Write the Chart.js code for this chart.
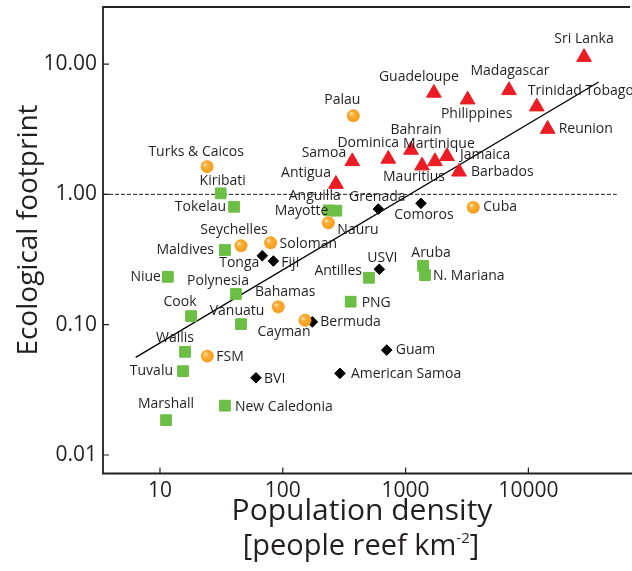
<!DOCTYPE html>
<html><head><meta charset="utf-8">
<script src="https://cdn.jsdelivr.net/npm/chart.js@4/dist/chart.umd.min.js"></script>
<style>html,body{margin:0;padding:0;background:#fff;}#wrap{width:632px;height:571px;position:relative;}</style>
</head><body><div id="wrap"><canvas id="c"></canvas></div>
<script>
// ---------- DATA ----------
const redNames = ['Sri Lanka','Guadeloupe','Madagascar','Philippines','Trinidad Tobago','Reunion','Bahrain','Dominica','Martinique','Jamaica','Mauritius','Barbados','Samoa','Antigua'];
const redDensity = [28400,1700,6950,3200,11700,14350,1107,723,1734,2173,1361,2723,368,271];
const redFootprint = [11.3,6.0,6.28,5.33,4.71,3.17,2.19,1.87,1.79,1.96,1.66,1.49,1.79,1.20];

const orangeNames = ['Palau','Turks & Caicos','Nauru','Cuba','Seychelles','Soloman','Bahamas','Cayman','FSM'];
const orangeDensity = [375,24.2,235,3556,45.7,79.6,91.8,151.7,24.3];
const orangeFootprint = [4.01,1.63,0.605,0.795,0.403,0.425,0.137,0.108,0.0574];

const greenNames = ['Kiribati','Tokelau','Anguilla','Mayotte','Maldives','Niue','Polynesia','Cook','Vanuatu','Wallis','Tuvalu','Marshall','New Caledonia','Antilles','PNG','Aruba','N. Mariana'];
const greenDensity = [31.2,40.1,236.6,273,33.8,11.6,41.6,17.9,45.7,16.0,15.4,11.2,33.8,503,357,1387,1439];
const greenFootprint = [1.018,0.803,0.754,0.749,0.374,0.233,0.172,0.1164,0.101,0.0619,0.0440,0.0185,0.0239,0.229,0.150,0.283,0.240];

const blackNames = ['Grenada','Comoros','Tonga','Fiji','USVI','Bermuda','Guam','American Samoa','BVI'];
const blackDensity = [600,1334,68.1,83.8,611,174,702,292,60.5];
const blackFootprint = [0.771,0.853,0.338,0.308,0.266,0.105,0.0638,0.0423,0.0391];

const fitDensity = [6.34, 37400];
const fitFootprint = [0.0561, 7.28];
const refDensity = [3.435, 52400];
const refFootprint = [1, 1];

const xTickValues = [10, 100, 1000, 10000];
const yTickValues = [0.01, 0.1, 1, 10];

// ---------- LABEL PLACEMENT (layout only) ----------
const labelPlacement = {
 'Sri Lanka':[0,-18,'center'],'Guadeloupe':[-15,-16,'center'],'Madagascar':[1,-19,'center'],'Philippines':[9,14,'center'],
 'Trinidad Tobago':[-9,-16,'left'],'Reunion':[11,0,'left'],'Bahrain':[5,-20,'center'],'Dominica':[-20,-16,'center'],
 'Martinique':[4,-17,'center'],'Jamaica':[13,-1,'left'],'Mauritius':[-8,11,'center'],'Barbados':[12,0,'left'],
 'Samoa':[-6,-8,'right'],'Antigua':[-5,-11,'right'],
 'Palau':[-11,-16,'center'],'Turks & Caicos':[-11,-15,'center'],'Nauru':[9,7,'left'],'Cuba':[10,0,'left'],
 'Seychelles':[-7,-16,'center'],'Soloman':[9,1,'left'],'Bahamas':[7,-15,'center'],'Cayman':[-21,12,'center'],'FSM':[9,1,'left'],
 'Kiribati':[2,-12,'center'],'Tokelau':[-8,0,'right'],'Anguilla':[-14,-14,'center'],'Mayotte':[-8,0,'right'],
 'Maldives':[-11,0,'right'],'Niue':[-7,0,'right'],'Polynesia':[-18,-13,'center'],'Cook':[-11,-14,'center'],
 'Vanuatu':[-4,-13,'center'],'Wallis':[-10,-14,'center'],'Tuvalu':[-10,0,'right'],'Marshall':[0,-16,'center'],
 'New Caledonia':[10,1,'left'],'Antilles':[-7,-7,'right'],'PNG':[11,1,'left'],'Aruba':[8,-13,'center'],'N. Mariana':[8,1,'left'],
 'Grenada':[-1,-12,'center'],'Comoros':[3,12,'center'],'Tonga':[-3,7,'right'],'Fiji':[8,2,'left'],'USVI':[3,-11,'center'],
 'Bermuda':[8,0,'left'],'Guam':[9,0,'left'],'American Samoa':[11,1,'left'],'BVI':[8,1,'left']
};

const pts = (xs, ys) => xs.map((x, i) => ({x: x, y: ys[i]}));
const INK = '#231F20';
const FONT = "'Open Sans', 'Noto Sans', sans-serif";

function orangeFill(ctx) {
  const chart = ctx.chart;
  if (ctx.type !== 'data' || !chart.scales.x || !ctx.raw) return '#F8A21C';
  const px = chart.scales.x.getPixelForValue(ctx.raw.x);
  const py = chart.scales.y.getPixelForValue(ctx.raw.y);
  if (!isFinite(px) || !isFinite(py)) return '#F8A21C';
  const g = chart.ctx.createRadialGradient(px - 2.5, py - 2.5, 0.3, px, py, 6.5);
  g.addColorStop(0, '#FFE3B0');
  g.addColorStop(0.35, '#FAB03A');
  g.addColorStop(1, '#F59A17');
  return g;
}

function noPad(s) { s.paddingTop = 0; s.paddingBottom = 0; s.paddingLeft = 0; s.paddingRight = 0; }

const labelPlugin = {
  id: 'pointLabels',
  afterDatasetsDraw(chart) {
    const ctx = chart.ctx;
    ctx.save();
    ctx.font = "14px " + FONT;
    ctx.fillStyle = INK;
    ctx.textBaseline = 'middle';
    chart.data.datasets.forEach((ds, di) => {
      if (!ds.names) return;
      const meta = chart.getDatasetMeta(di);
      meta.data.forEach((el, i) => {
        const name = ds.names[i];
        const p = labelPlacement[name] || [8, 0, 'left'];
        ctx.textAlign = p[2];
        ctx.fillText(name, el.x + p[0], el.y + p[1]);
      });
    });
    ctx.restore();
  }
};

const framePlugin = {
  id: 'frame',
  beforeDatasetsDraw(chart) {
    const ctx = chart.ctx, a = chart.chartArea;
    const xs = chart.scales.x, ys = chart.scales.y;
    ctx.save();
    ctx.strokeStyle = INK;
    ctx.lineWidth = 1.8;
    ctx.beginPath();
    ctx.moveTo(630, a.top); ctx.lineTo(a.left, a.top); ctx.lineTo(a.left, a.bottom); ctx.lineTo(a.right, a.bottom);
    ctx.stroke();
    ctx.lineWidth = 1.2;
    ctx.beginPath();
    xTickValues.forEach(v => { const px = xs.getPixelForValue(v); ctx.moveTo(px, a.bottom); ctx.lineTo(px, a.bottom - 6); });
    yTickValues.forEach(v => { const py = ys.getPixelForValue(v); ctx.moveTo(a.left, py); ctx.lineTo(a.left + 6, py); });
    ctx.stroke();
    ctx.restore();
  },
  afterDraw(chart) {
    const ctx = chart.ctx;
    ctx.save();
    ctx.fillStyle = INK;
    ctx.textBaseline = 'alphabetic';
    // x title
    ctx.font = "30px " + FONT;
    ctx.textAlign = 'center';
    ctx.fillText('Population density', 362, 520);
    const p1 = '[people reef km', sup = '-2', p2 = ']';
    ctx.font = "29px " + FONT;
    const w1 = ctx.measureText(p1).width, w2 = ctx.measureText(p2).width;
    ctx.font = "15px " + FONT;
    const ws = ctx.measureText(sup).width;
    const total = w1 + ws + w2;
    let x0 = 361 - total / 2;
    ctx.textAlign = 'left';
    ctx.font = "29px " + FONT;
    ctx.fillText(p1, x0, 555);
    ctx.font = "15px " + FONT;
    ctx.fillText(sup, x0 + w1, 543);
    ctx.font = "29px " + FONT;
    ctx.fillText(p2, x0 + w1 + ws, 555);
    // y title
    ctx.font = "28px " + FONT;
    ctx.translate(37, 230);
    ctx.rotate(-Math.PI / 2);
    ctx.textAlign = 'center';
    ctx.fillText('Ecological footprint', 0, 0);
    ctx.restore();
  }
};

new Chart(document.getElementById('c'), {
  data: {
    datasets: [
      {type:'scatter', names: redNames, data: pts(redDensity, redFootprint), pointStyle:'triangle', pointRadius:8.5, backgroundColor:'#EC1C24', borderColor:'#EC1C24', borderWidth:1},
      {type:'scatter', names: orangeNames, data: pts(orangeDensity, orangeFootprint), pointStyle:'circle', pointRadius:6.2, backgroundColor: orangeFill, borderColor:'#F59A17', borderWidth:0.5},
      {type:'scatter', names: greenNames, data: pts(greenDensity, greenFootprint), pointStyle:'rect', pointRadius:7.6, backgroundColor:'#6CBE45', borderColor:'#6CBE45', borderWidth:1},
      {type:'scatter', names: blackNames, data: pts(blackDensity, blackFootprint), pointStyle:'rectRot', pointRadius:5.3, backgroundColor:'#000', borderColor:'#000', borderWidth:1},
      {type:'line', data: pts(fitDensity, fitFootprint), borderColor:'#000', borderWidth:1.3, pointRadius:0, fill:false},
      {type:'line', data: pts(refDensity, refFootprint), borderColor:'#222', borderWidth:1, borderDash:[4,2], pointRadius:0, fill:false}
    ]
  },
  options: {
    responsive: true, maintainAspectRatio: false, animation: false,
    layout: {autoPadding: false, padding: {top: 7, right: 0, left: 0, bottom: 0}},
    plugins: {legend: {display: false}, tooltip: {enabled: false}},
    scales: {
      x: {
        type: 'logarithmic', min: 3.435, max: 69780,
        grid: {display: false, drawTicks: false}, border: {display: false},
        afterBuildTicks: s => { s.ticks = xTickValues.map(v => ({value: v})); },
        afterFit: s => { s.height = 97.5; noPad(s); },
        ticks: {font: {family: FONT, size: 21}, color: INK, padding: 5, maxRotation: 0, autoSkip: false, callback: v => String(v)}
      },
      y: {
        type: 'logarithmic', min: 0.00721, max: 27.4,
        grid: {display: false, drawTicks: false}, border: {display: false},
        afterBuildTicks: s => { s.ticks = yTickValues.map(v => ({value: v})); },
        afterFit: s => { s.width = 103; noPad(s); },
        ticks: {font: {family: FONT, size: 21}, color: INK, padding: 6, autoSkip: false, callback: v => Number(v).toFixed(2)}
      }
    }
  },
  plugins: [framePlugin, labelPlugin]
});
</script>
</body></html>
